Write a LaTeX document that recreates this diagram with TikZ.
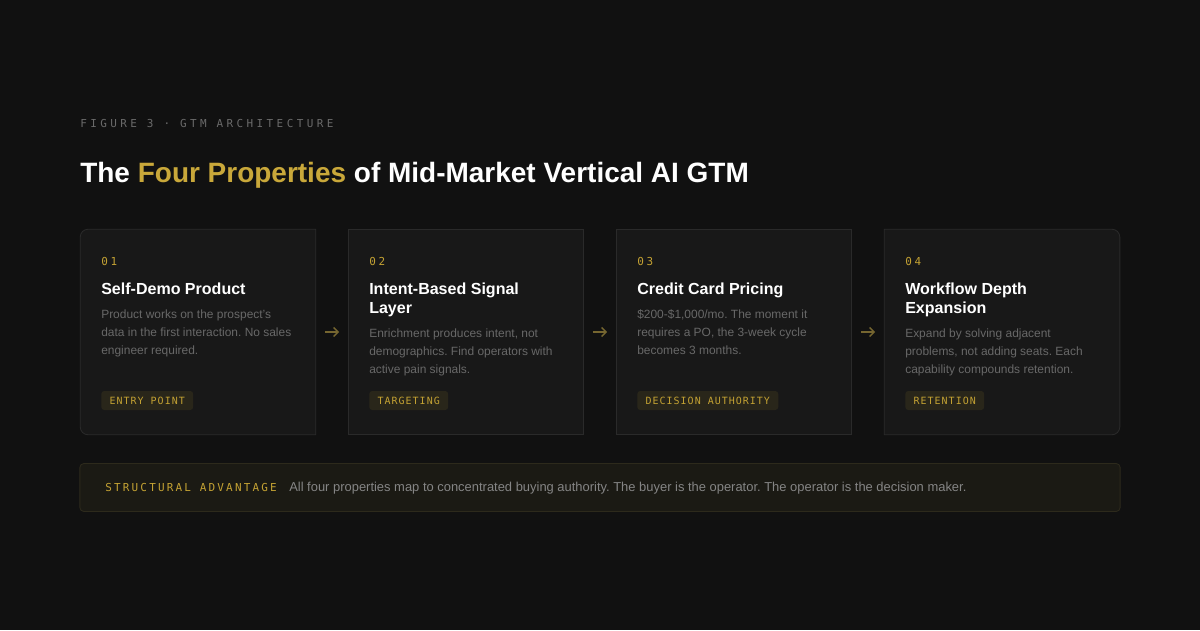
\documentclass[tikz,border=0pt]{standalone}
\usepackage{fontspec}
\setmainfont{Liberation Sans}
\newfontfamily\headmono[LetterSpace=31]{DejaVu Sans Mono}
\newfontfamily\nummono[LetterSpace=25]{DejaVu Sans Mono}
\newfontfamily\tagmono[LetterSpace=10]{DejaVu Sans Mono}
\newfontfamily\barmono[LetterSpace=20]{DejaVu Sans Mono}
\usetikzlibrary{arrows.meta}
\frenchspacing

\definecolor{pagebg}{HTML}{111111}
\definecolor{cardfill}{HTML}{181818}
\definecolor{cardedge}{HTML}{2A2A2A}
\definecolor{gold}{HTML}{C9A83A}
\definecolor{goldtxt}{HTML}{C4A233}
\definecolor{tagfill}{HTML}{29261A}
\definecolor{arrowcol}{HTML}{766630}
\definecolor{bodytxt}{HTML}{686868}
\definecolor{notetxt}{HTML}{858585}
\definecolor{headtxt}{HTML}{6A6A6A}
\definecolor{barfill}{HTML}{1B1A14}
\definecolor{baredge}{HTML}{2D2A1C}

\tikzset{
  cardspace/.style={rectangle, minimum width=5.875cm, minimum height=5.125cm, inner sep=0pt},
  cardline/.style={fill=cardfill, draw=cardedge, line width=0.6pt},
  num/.style={anchor=base west, inner sep=0pt, text=goldtxt, font=\nummono\fontsize{7.8}{9}\selectfont},
  cardtitle/.style={anchor=base west, inner sep=0pt, align=left, text=white, font=\bfseries\fontsize{11.4}{13.5}\selectfont},
  cardbody/.style={anchor=base west, inner sep=0pt, align=left, text=bodytxt, font=\fontsize{8.5}{12.8}\selectfont},
  tag/.style={anchor=west, fill=tagfill, rounded corners=0.075cm, inner xsep=0.21cm, inner ysep=0pt,
    minimum height=0.475cm, text height=5.1pt, text depth=0pt, text=goldtxt, font=\tagmono\fontsize{7.1}{8}\selectfont},
  flow/.style={draw=arrowcol, line width=1.1pt, -{Straight Barb[length=3.2pt, width=6.4pt]},
    shorten <=0.225cm, shorten >=0.225cm}
}

\begin{document}
\begin{tikzpicture}[x=0.025cm, y=-0.025cm]
\fill[pagebg] (0,0) rectangle (1200,630);
\useasboundingbox (0,0) rectangle (1200,630);

% heading
\node[anchor=base west, inner sep=0pt, text=headtxt, font=\headmono\fontsize{7.8}{9}\selectfont] (fig) at (80,128) {FIGURE 3 · GTM ARCHITECTURE};
\node[anchor=base west, inner sep=0pt, text=white, font=\bfseries\fontsize{19.9}{24}\selectfont] (title) at (80,182)
  {The \textcolor{gold}{Four Properties} of Mid-Market Vertical AI GTM};

% cards
\node[cardspace] (card1) at (198,332) {};
\node[cardspace] (card2) at (466,332) {};
\node[cardspace] (card3) at (734,332) {};
\node[cardspace] (card4) at (1002,332) {};
\draw[cardline, rounded corners=0.2cm] (card1.north) -- (card1.north west) -- (card1.south west) -- (card1.south)
  [sharp corners] -- (card1.south east) -- (card1.north east) -- cycle;
\draw[cardline] (card2.north west) rectangle (card2.south east);
\draw[cardline] (card3.north west) rectangle (card3.south east);
\draw[cardline, rounded corners=0.2cm] (card4.north) -- (card4.north east) -- (card4.south east) -- (card4.south)
  [sharp corners] -- (card4.south west) -- (card4.north west) -- cycle;

% card 1 (base = last line)
\node[num] (num1) at (101,265) {01};
\node[cardtitle] (head1) at (101,294) {Self-Demo Product};
\node[cardbody] (text1) at (101,354) {Product works on the prospect’s\\data in the first interaction. No sales\\engineer required.};
\node[tag] (tag1) at (101,400.5) {ENTRY POINT};

% card 2
\node[num] (num2) at (369,265) {02};
\node[cardtitle] (head2) at (369,313) {Intent-Based Signal\\Layer};
\node[cardbody] (text2) at (369,373) {Enrichment produces intent, not\\demographics. Find operators with\\active pain signals.};
\node[tag] (tag2) at (369,400.5) {TARGETING};

% card 3
\node[num] (num3) at (637,265) {03};
\node[cardtitle] (head3) at (637,294) {Credit Card Pricing};
\node[cardbody] (text3) at (637,354) {\$200-\$1,000/mo. The moment it\\requires a PO, the 3-week cycle\\becomes 3 months.};
\node[tag] (tag3) at (637,400.5) {DECISION AUTHORITY};

% card 4
\node[num] (num4) at (905,265) {04};
\node[cardtitle] (head4) at (905,313) {Workflow Depth\\Expansion};
\node[cardbody] (text4) at (905,373) {Expand by solving adjacent\\problems, not adding seats. Each\\capability compounds retention.};
\node[tag] (tag4) at (905,400.5) {RETENTION};

% arrows
\draw[flow] (card1) -- (card2);
\draw[flow] (card2) -- (card3);
\draw[flow] (card3) -- (card4);

% bottom bar
\node[rectangle, minimum width=26cm, minimum height=1.2cm, fill=barfill, draw=baredge, line width=0.6pt,
  rounded corners=0.1cm] (bar) at (600,487.5) {};
\node[anchor=base west, inner sep=0pt, text=goldtxt, font=\barmono\fontsize{7.8}{9}\selectfont] (barlabel) at (105,491) {STRUCTURAL ADVANTAGE};
\node[anchor=base west, inner sep=0pt, text=notetxt, font=\fontsize{9.2}{11}\selectfont] (bartext) at (289,491)
  {All four properties map to concentrated buying authority. The buyer is the operator. The operator is the decision maker.};
\end{tikzpicture}
\end{document}
